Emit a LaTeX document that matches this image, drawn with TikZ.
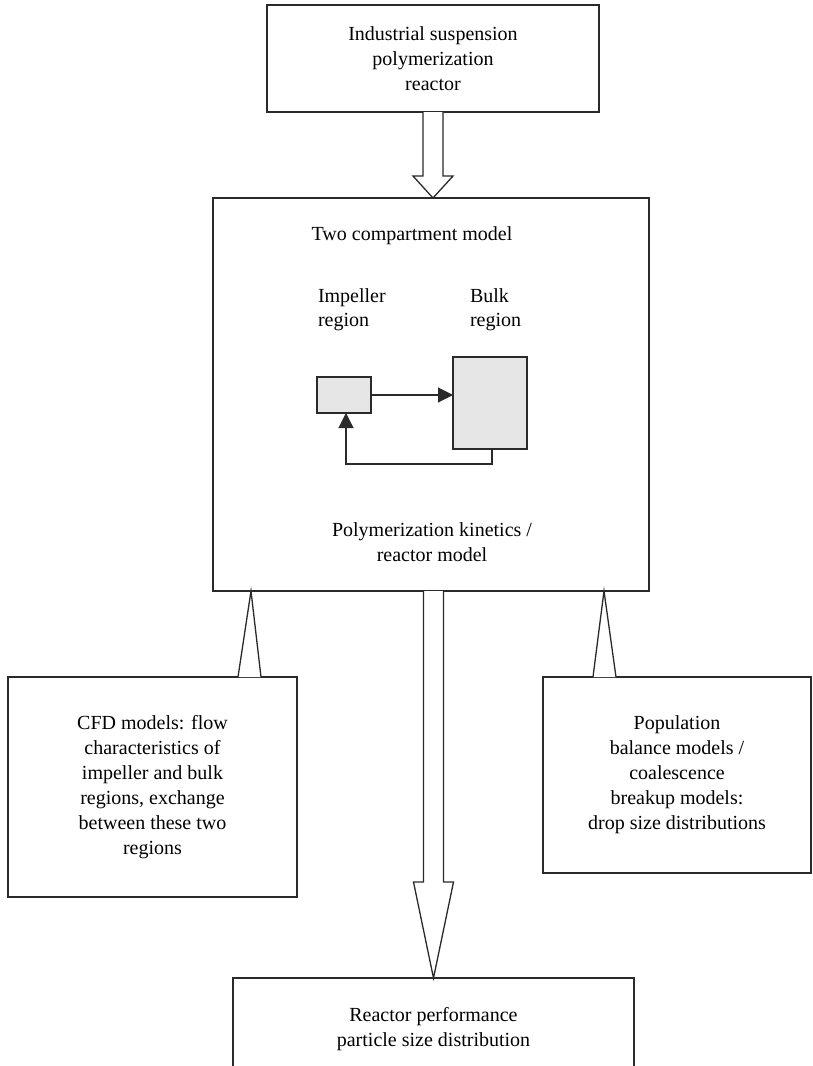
\documentclass[tikz,border=0pt]{standalone}
\usepackage{fontspec}
\setmainfont{Liberation Serif}
\usetikzlibrary{arrows.meta,calc}
\definecolor{ln}{HTML}{2A2A2A}
\definecolor{fillg}{HTML}{E6E6E7}
\begin{document}
\begin{tikzpicture}[x=1pt,y=-1pt,
  box/.style={draw=ln, line width=1.4pt, fill=white, inner sep=0pt, outer sep=0pt, align=center, font=\fontsize{20}{25}\selectfont, anchor=north west},
  lbl/.style={inner sep=0pt, outer sep=0pt, font=\fontsize{20}{24}\selectfont},
  blk/.style={draw=ln, line width=1.3pt, fill=white, line join=miter},
  smallbox/.style={draw=ln, line width=1.1pt, fill=fillg, inner sep=0pt, outer sep=0pt, anchor=north west},
  flow/.style={draw=ln, line width=1.1pt, -{Triangle[length=15pt,width=15pt]}}]
\path[use as bounding box, clip] (0,0) rectangle (812,1066);
\fill[white] (0,0) rectangle (812,1066);
% boxes
\node[box, minimum width=332, minimum height=107] (top) at (267,5) {Industrial suspension\\polymerization\\reactor};
\node[box, minimum width=436, minimum height=393] (main) at (213,198) {};
\node[box, minimum width=289, minimum height=220] (cfd) at (8,677) {CFD models: flow\\characteristics of\\impeller and bulk\\regions, exchange\\between these two\\regions};
\node[box, minimum width=268, minimum height=196] (pop) at (543,677) {Population\\balance models /\\coalescence\\breakup models:\\drop size distributions};
\node[box, minimum width=401, minimum height=102] (bot) at (233,978) {Reactor performance\\particle size distribution};
% top block arrow
\draw[blk] ($(top.south)+(-10,0)$) -- ($(top.south)+(-10,64)$) -- ($(top.south)+(-20,64)$) -- (top.south |- main.north) -- ($(top.south)+(20,64)$) -- ($(top.south)+(10,64)$) -- ($(top.south)+(10,0)$);
% centre block arrow
\coordinate (c0) at (bot.north |- main.south);
\draw[blk] ($(c0)+(-10,0)$) -- ($(c0)+(-10,291)$) -- ($(c0)+(-20,291)$) -- (bot.north) -- ($(c0)+(20,291)$) -- ($(c0)+(10,291)$) -- ($(c0)+(10,0)$);
% thin triangles
\draw[blk] ($(cfd.north west)+(230,0)$) -- ($(main.south west)+(38,0)$) -- ($(cfd.north west)+(253,0)$);
\draw[blk] ($(pop.north west)+(50,0)$) -- ($(main.south west)+(391,0)$) -- ($(pop.north west)+(73,0)$);
% inner model
\node[lbl, anchor=base] (tcm) at (412,240) {Two compartment model};
\node[lbl, anchor=north west, align=left] (implbl) at (318,289) {Impeller\\region};
\node[lbl, anchor=north west, align=left] (bulklbl) at (470,289) {Bulk\\region};
\node[smallbox, minimum width=54, minimum height=36] (imp) at (317,377) {};
\node[smallbox, minimum width=74, minimum height=92] (bulk) at (453,357) {};
\draw[flow] (imp.east) -- (bulk.west |- imp.east);
\draw[flow] ($(bulk.south west)+(39,0)$) -- ++(0,15) -| ($(imp.south west)+(29,0)$);
\node[lbl, anchor=north, align=center, font=\fontsize{20}{25}\selectfont] (kin) at (432,523) {Polymerization kinetics /\\reactor model};
\end{tikzpicture}
\end{document}
